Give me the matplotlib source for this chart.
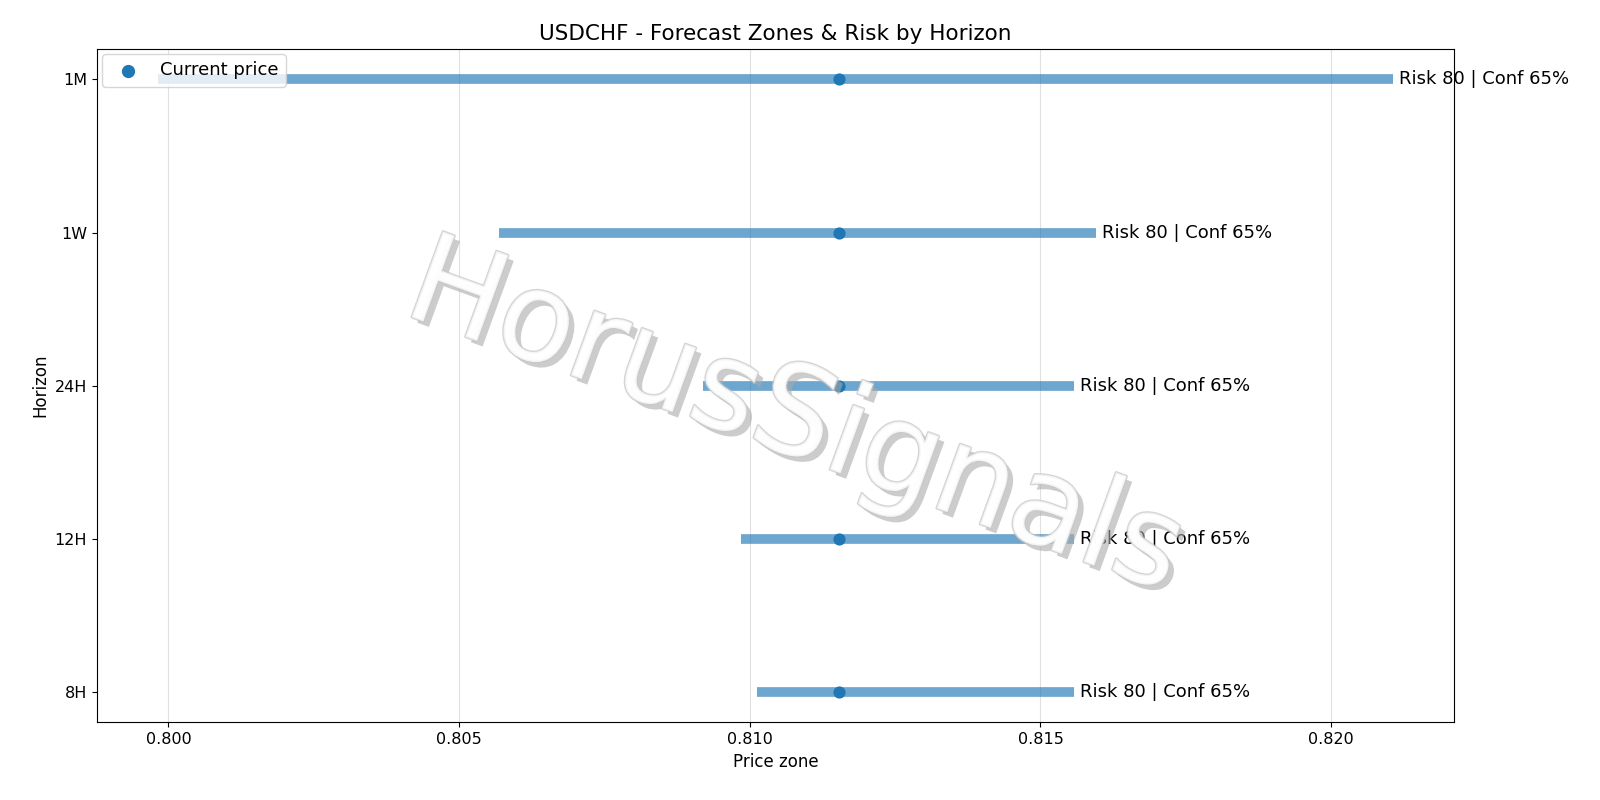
import matplotlib
matplotlib.use("Agg")
import matplotlib.pyplot as plt
import matplotlib.patheffects as pe

horizons = ["8H", "12H", "24H", "1W", "1M"]
low = [0.81012, 0.80984, 0.80920, 0.80568, 0.79982]
high = [0.81558, 0.81558, 0.81558, 0.81595, 0.82107]
current = 0.81153
labels = ["Risk 80 | Conf 65%"] * 5

fig, ax = plt.subplots(figsize=(16, 8), dpi=100)
fig.subplots_adjust(left=0.0606, right=0.909, top=0.939, bottom=0.097)

for i, h in enumerate(horizons):
    ax.hlines(i, low[i], high[i], color="#1f77b4", alpha=0.65, linewidth=7)
    ax.text(high[i] + 0.0001, i, labels[i], va="center", ha="left", fontsize=13)
ax.scatter([current] * len(horizons), range(len(horizons)), color="#1f77b4", s=60, zorder=3, label="Current price")

ax.set_yticks(range(len(horizons)))
ax.set_yticklabels(horizons, fontsize=11.5)
ax.set_xticks([0.800, 0.805, 0.810, 0.815, 0.820])
ax.set_xticklabels(["0.800", "0.805", "0.810", "0.815", "0.820"], fontsize=11.5)
ax.set_xlim(0.79877, 0.82212)
ax.set_ylim(-0.2, 4.2)
ax.grid(True, axis="x", color="#e0e0e0")
ax.set_axisbelow(True)
ax.set_xlabel("Price zone", fontsize=12)
ax.set_ylabel("Horizon", fontsize=12)
ax.set_title("USDCHF - Forecast Zones & Risk by Horizon", fontsize=15.5)
ax.legend(loc="upper left", fontsize=13, borderaxespad=0.3, markerscale=1.1)

fig.text(0.497, 0.475, "HorusSignals", fontsize=90, rotation=-20, ha="center", va="center",
         color="white", alpha=0.75,
         path_effects=[pe.withSimplePatchShadow(offset=(4, -4), shadow_rgbFace="#aaaaaa", alpha=0.6),
                       pe.Stroke(linewidth=2, foreground="#c8c8c8"), pe.Normal()])

fig.savefig("out.png")
